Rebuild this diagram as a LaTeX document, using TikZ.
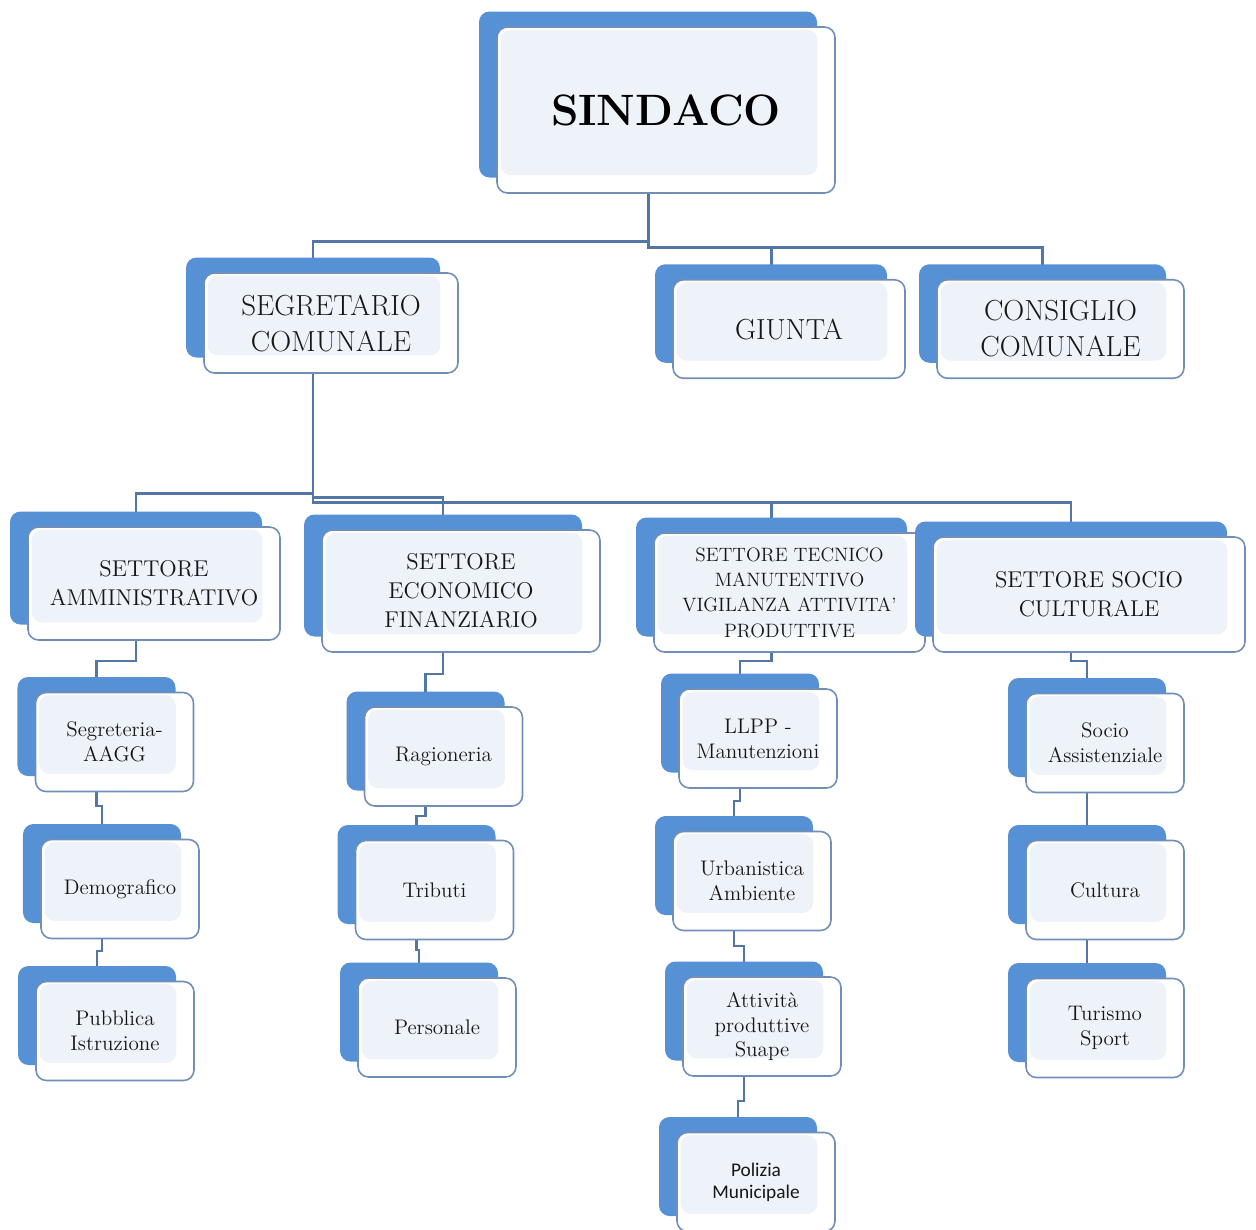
\documentclass[tikz,border=0pt]{standalone}
\usepackage{fontspec}
\newfontfamily\carlito{Carlito}
\usetikzlibrary{shadows,backgrounds}
\definecolor{blu}{RGB}{86,145,213}
\definecolor{bordo}{RGB}{112,142,182}
\definecolor{interno}{RGB}{238,243,250}
\definecolor{filo}{RGB}{82,118,166}
\definecolor{testo}{RGB}{22,22,22}

\begin{document}
\begin{tikzpicture}[
  box/.style={rectangle, rounded corners=6pt, draw=bordo, line width=0.9pt, fill=white,
    general shadow={fill=blu, shadow xshift=-3.6mm, shadow yshift=3.1mm},
    path picture={\fill[interno] ([xshift=2pt,yshift=-1.5pt]path picture bounding box.north west)
      rectangle ([xshift=-10pt,yshift=10pt]path picture bounding box.south east);},
    align=center, text=testo, inner sep=0pt},
  vertice/.style={box, minimum height=1.97cm, font=\fontsize{16.5}{20.5}\selectfont},
  settore/.style={box, font=\fontsize{13}{16.5}\selectfont},
  ufficio/.style={box, minimum width=3.16cm, minimum height=1.98cm, font=\fontsize{12}{14.2}\selectfont},
  filo/.style={draw=filo, line width=1.3pt}
]
\useasboundingbox (0,0) rectangle (25.12,-24.58);

% Sindaco e organi di governo
\node[box, minimum width=6.76cm, minimum height=3.32cm, text=black,
  font=\fontsize{25}{30}\selectfont\bfseries] (sindaco) at (13.32,-2.20) {SINDACO};
\node[vertice, minimum width=5.08cm, minimum height=2.0cm] (segretario) at (6.62,-6.46) {SEGRETARIO\\COMUNALE};
\node[vertice, minimum width=4.64cm] (giunta) at (15.78,-6.58) {GIUNTA};
\node[vertice, minimum width=4.94cm] (consiglio) at (21.21,-6.58) {CONSIGLIO\\COMUNALE};

% Settori
\node[settore, minimum width=5.04cm, minimum height=2.26cm] (amm) at (3.08,-11.67) {SETTORE\\AMMINISTRATIVO};
\node[settore, minimum width=5.56cm, minimum height=2.44cm] (econ) at (9.22,-11.82) {SETTORE\\ECONOMICO\\FINANZIARIO};
\node[settore, minimum width=5.42cm, minimum height=2.38cm, font=\fontsize{11}{14.4}\selectfont] (tecn) at (15.79,-11.85)
  {SETTORE TECNICO\\MANUTENTIVO\\VIGILANZA ATTIVITA'\\PRODUTTIVE};
\node[settore, minimum width=6.24cm, minimum height=2.30cm] (socio) at (21.78,-11.89) {SETTORE SOCIO\\CULTURALE};

% Uffici
\node[ufficio] (segr) at (2.29,-14.84) {Segreteria-\\AAGG};
\node[ufficio] (demo) at (2.40,-17.78) {Demografico};
\node[ufficio] (pubb) at (2.30,-20.62) {Pubblica\\Istruzione};

\node[ufficio] (ragi) at (8.87,-15.13) {Ragioneria};
\node[ufficio] (trib) at (8.69,-17.80) {Tributi};
\node[ufficio] (pers) at (8.74,-20.55) {Personale};

\node[ufficio] (llpp) at (15.16,-14.77) {LLPP -\\Manutenzioni};
\node[ufficio] (urba) at (15.04,-17.62) {Urbanistica\\Ambiente};
\node[ufficio] (atti) at (15.24,-20.53) {Attività\\produttive\\Suape};
\node[ufficio, font=\carlito\fontsize{11}{12.5}\selectfont] (poli) at (15.12,-23.64) {Polizia\\Municipale};

\node[ufficio] (assi) at (22.10,-14.86) {Socio\\Assistenziale};
\node[ufficio] (cult) at (22.10,-17.80) {Cultura};
\node[ufficio] (turi) at (22.10,-20.56) {Turismo\\Sport};

% Collegamenti, dietro i riquadri
\begin{scope}[on background layer]
\draw[filo, line width=1.7pt] ([xshift=-3.6mm]sindaco.south) -- ++(0,-0.96) -| ([xshift=-3.6mm]segretario.north);
\draw[filo, line width=1.7pt] ([xshift=-3.6mm]sindaco.south) -- ++(0,-1.08) -| ([xshift=-3.6mm]giunta.north);
\draw[filo, line width=1.7pt] ([xshift=-3.6mm]sindaco.south) -- ++(0,-1.08) -| ([xshift=-3.6mm]consiglio.north);

\foreach \s/\d in {amm/2.40, econ/2.48, tecn/2.58, socio/2.58}
  \draw[filo, line width=1.5pt] ([xshift=-3.6mm]segretario.south) -- ++(0,-\d) -| ([xshift=-3.6mm]\s.north);

\foreach \a/\b/\d in {amm/segr/0.40, segr/demo/0.27, demo/pubb/0.24,
    econ/ragi/0.42, ragi/trib/0.18, trib/pers/0.2,
    tecn/llpp/0.16, llpp/urba/0.24, urba/atti/0.3, atti/poli/0.48,
    socio/assi/0.16, assi/cult/0.3, cult/turi/0.3}
  \draw[filo] ([xshift=-3.6mm]\a.south) -- ++(0,-\d) -| ([xshift=-3.6mm]\b.north);
\end{scope}
\end{tikzpicture}
\end{document}
